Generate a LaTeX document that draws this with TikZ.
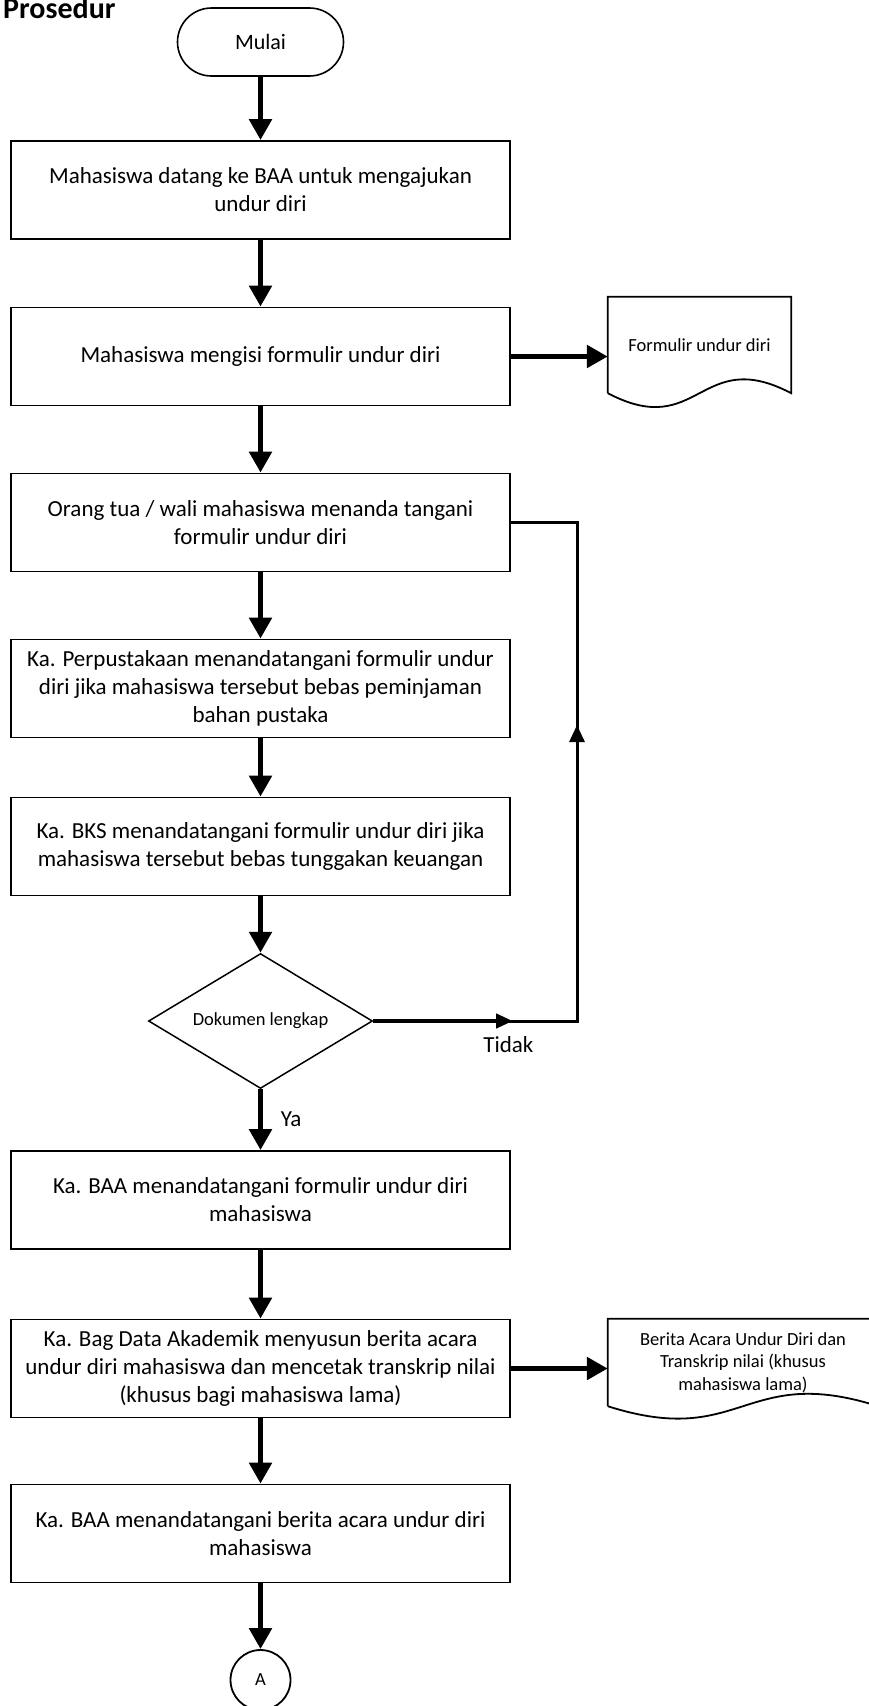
\documentclass[tikz,border=0pt]{standalone}
\usepackage{fontspec}
\setmainfont{Carlito}
\usetikzlibrary{arrows.meta,shapes.geometric}

\begin{document}
\begin{tikzpicture}
[x=1pt,y=-1pt,
  procbox/.style={shape=rectangle,draw,line width=1.8,minimum width=499,minimum height=98,inner sep=0,align=center,font=\fontsize{23}{28}\selectfont},%
  termbox/.style={shape=rectangle,draw,line width=1.6,rounded corners=34,minimum width=166,minimum height=68,font=\fontsize{22}{26}\selectfont},%
  decbox/.style={shape=diamond,draw,line width=1.5,aspect=1.66,minimum width=224,minimum height=135,inner sep=0,font=\fontsize{18.5}{22}\selectfont},%
  docbox/.style={shape=rectangle,inner sep=0,align=center,font=\fontsize{18.5}{22.5}\selectfont},%
  docline/.style={line width=1.8},%
  connbox/.style={shape=circle,draw,line width=1.8,minimum size=60,inner sep=0,font=\fontsize{18.5}{22}\selectfont},%
  arrowline/.style={line width=5.5,-{Triangle[length=21pt,width=22pt]}},%
  loopline/.style={line width=3},%
  edgelabel/.style={inner sep=2,font=\fontsize{23}{28}\selectfont}]
\useasboundingbox (0,0) rectangle (868,1706);
%% title
\node (title) at (3,18) [anchor=base west,inner sep=0,font=\fontsize{30}{36}\bfseries\selectfont] {Prosedur};
%% nodes
\node (start) at (260.5,42) [termbox] {Mulai};
\foreach \nodename/\y/\txt in {
  b1/190/{Mahasiswa datang ke BAA untuk mengajukan\\undur diri},
  b2/356.5/{Mahasiswa mengisi formulir undur diri},
  b3/522.5/{Orang tua / wali mahasiswa menanda tangani\\formulir undur diri},
  b4/688.5/{Ka. Perpustakaan menandatangani formulir undur\\diri jika mahasiswa tersebut bebas peminjaman\\bahan pustaka},
  b5/846.5/{Ka. BKS menandatangani formulir undur diri jika\\mahasiswa tersebut bebas tunggakan keuangan},
  b6/1200/{Ka. BAA menandatangani formulir undur diri\\mahasiswa},
  b7/1368.5/{Ka. Bag Data Akademik menyusun berita acara\\undur diri mahasiswa dan mencetak transkrip nilai\\(khusus bagi mahasiswa lama)},
  b8/1533.5/{Ka. BAA menandatangani berita acara undur diri\\mahasiswa}} {
  \node (\nodename) at (260.5,\y) [procbox] {\txt};
}
\node (dec) at (260.5,1021) [decbox] {Dokumen lengkap};
\node (conA) at (260.5,1680) [connbox] {A};
%% documents
\node (d1) at (699.5,345) [docbox,minimum width=183,minimum height=96] {Formulir undur diri};
\node (d2) at (743,1362.5) [docbox,minimum width=270,minimum height=87] {Berita Acara Undur Diri dan\\Transkrip nilai (khusus\\mahasiswa lama)};
\draw[docline] (d1.south west) -- (d1.north west) -- (d1.north east) -- (d1.south east)
  .. controls +(-91.5,-48) and +(91.5,48) .. (d1.south west);
\draw[docline] (d2.south west) -- (d2.north west) -- (d2.north east) -- (d2.south east)
  .. controls +(-135,-43) and +(135,43) .. (d2.south west);
%% edges or lines
\path
\foreach \startnode/\endnode in {start/b1, b1/b2, b2/b3, b3/b4, b4/b5, b5/dec, b6/b7, b7/b8, b8/conA} {
  (\startnode) edge[arrowline] (\endnode)
}
(dec) edge[arrowline] node[midway,anchor=west,xshift=15.5,edgelabel] {Ya} (b6)
(b2.east) edge[arrowline] (b2.east -| d1.west)
(b7.east) edge[arrowline] (b7.east -| d2.west);
%% loop back when not complete
\coordinate (turn) at (577,0);
\coordinate (tidaktip) at (513,1021);
\coordinate (uptip) at (577,725);
\draw[loopline] (dec.east) -- node[pos=0.663,anchor=north,yshift=-12,edgelabel] {Tidak} (dec.east -| turn)
  -- (b3.east -| turn) -- (b3.east);
\draw[loopline,line width=4.3,-{Triangle[length=17pt,width=14pt]}] (dec.east) -- (tidaktip);
\draw[loopline,-{Triangle[length=17pt,width=15pt]}] (dec.east -| turn) -- (uptip);
\end{tikzpicture}
\end{document}
